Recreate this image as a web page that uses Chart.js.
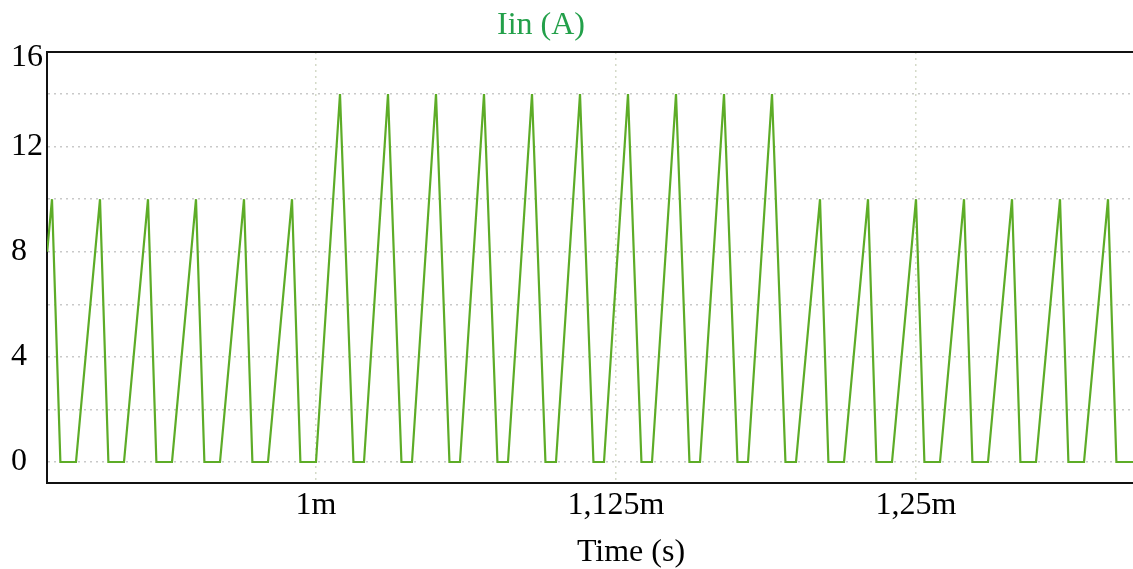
<!DOCTYPE html>
<html>
<head>
<meta charset="utf-8">
<script src="https://cdn.jsdelivr.net/npm/chart.js@4.4.0/dist/chart.umd.min.js"></script>
<style>
  html, body { margin: 0; padding: 0; background: #fff; overflow: hidden; }
  #wrap { width: 1215px; height: 572px; }
</style>
</head>
<body>
<div id="wrap"><canvas id="myChart" width="1215" height="572"></canvas></div>
<script>
// time in ms, current in A
const timeMs = [
    0.888, 0.890, 0.8935, 0.900,
    0.910, 0.9135, 0.920,
    0.930, 0.9335, 0.940,
    0.950, 0.9535, 0.960,
    0.970, 0.9735, 0.980,
    0.990, 0.9935, 1.000,
    1.010, 1.0156, 1.020,
    1.030, 1.0356, 1.040,
    1.050, 1.0556, 1.060,
    1.070, 1.0756, 1.080,
    1.090, 1.0956, 1.100,
    1.110, 1.1156, 1.120,
    1.130, 1.1356, 1.140,
    1.150, 1.1556, 1.160,
    1.170, 1.1756, 1.180,
    1.190, 1.1956, 1.200,
    1.210, 1.2135, 1.220,
    1.230, 1.2335, 1.240,
    1.250, 1.2535, 1.260,
    1.270, 1.2735, 1.280,
    1.290, 1.2935, 1.300,
    1.310, 1.3135, 1.320,
    1.330, 1.3335, 1.345
];
const currentA = [
    8, 10, 0, 0,
    10, 0, 0,
    10, 0, 0,
    10, 0, 0,
    10, 0, 0,
    10, 0, 0,
    14, 0, 0,
    14, 0, 0,
    14, 0, 0,
    14, 0, 0,
    14, 0, 0,
    14, 0, 0,
    14, 0, 0,
    14, 0, 0,
    14, 0, 0,
    14, 0, 0,
    10, 0, 0,
    10, 0, 0,
    10, 0, 0,
    10, 0, 0,
    10, 0, 0,
    10, 0, 0,
    10, 0, 0
];

const xTicks = [1.0, 1.125, 1.25];
const xTickLabels = ['1m', '1,125m', '1,25m'];
const yGrid = [0, 2, 4, 6, 8, 10, 12, 14];
const yLabeled = [0, 4, 8, 12];
const yTopLabel = '16';
const chartTitle = 'Iin (A)';

// the plot runs past the right edge of the window, as in the cropped original
const X_MIN = 0.88792, X_MAX = 1.37458;
const Y_MIN = -0.8, Y_MAX = 15.6;
const Y_TOP_TICK = 15.4;

const serif = "'Liberation Serif', 'Times New Roman', serif";

// top frame line + the green trace title
const framePlugin = {
    id: 'frame',
    afterDraw(chart) {
        const a = chart.chartArea;
        const c = chart.ctx;
        c.save();
        c.strokeStyle = '#111';
        c.lineWidth = 2;
        c.beginPath();
        c.moveTo(a.left - 1, a.top);
        c.lineTo(a.right, a.top);
        c.stroke();

        c.fillStyle = '#23a04a';
        c.font = '32px ' + serif;
        c.textAlign = 'center';
        c.textBaseline = 'alphabetic';
        c.fillText(chartTitle, 541, 34);
        c.restore();
    }
};

const points = timeMs.map((t, i) => ({ x: t, y: currentA[i] }));

const ctx = document.getElementById('myChart').getContext('2d');
const myChart = new Chart(ctx, {
    type: 'line',
    data: {
        datasets: [{
            label: chartTitle,
            data: points,
            borderColor: '#5dac27',
            borderWidth: 2.2,
            pointRadius: 0,
            tension: 0,
            fill: false,
        }],
    },
    options: {
        responsive: false,
        animation: false,
        layout: { padding: { top: 52, left: 11, right: 0, bottom: 0 } },
        plugins: {
            legend: { display: false },
            tooltip: { enabled: false },
            title: { display: false },
        },
        scales: {
            x: {
                type: 'linear',
                min: X_MIN,
                max: X_MAX,
                afterBuildTicks: (scale) => {
                    scale.ticks = xTicks.map(v => ({ value: v }));
                },
                afterFit: (scale) => { scale.height = 89; },
                ticks: {
                    color: '#000',
                    font: { family: serif, size: 32 },
                    padding: 3,
                    maxRotation: 0,
                    autoSkip: false,
                    callback: (v) => {
                        const i = xTicks.indexOf(v);
                        return i >= 0 ? xTickLabels[i] : '';
                    },
                },
                grid: {
                    color: '#d4dac8',
                    lineWidth: 1.5,
                    drawTicks: false,
                },
                border: { color: '#111', width: 2, dash: [2, 4] },
                title: {
                    display: true,
                    text: 'Time (s)',
                    color: '#000',
                    font: { family: serif, size: 32 },
                    padding: { top: 0, bottom: 0 },
                },
            },
            y: {
                min: Y_MIN,
                max: Y_MAX,
                afterBuildTicks: (scale) => {
                    scale.ticks = yGrid.concat([Y_TOP_TICK]).map(v => ({ value: v }));
                },
                afterFit: (scale) => { scale.width = 36; },
                ticks: {
                    color: '#000',
                    font: { family: serif, size: 32 },
                    crossAlign: 'far',
                    padding: 2,
                    autoSkip: false,
                    callback: (v) => {
                        if (v === Y_TOP_TICK) return yTopLabel;
                        return yLabeled.includes(v) ? String(v) : '';
                    },
                },
                grid: {
                    color: (c) => (c.tick && c.tick.value === Y_TOP_TICK) ? 'rgba(0,0,0,0)' : '#c9c9c9',
                    lineWidth: 1.5,
                    drawTicks: false,
                },
                border: { color: '#111', width: 2, dash: [2, 4] },
            },
        },
    },
    plugins: [framePlugin],
});
</script>
</body>
</html>
